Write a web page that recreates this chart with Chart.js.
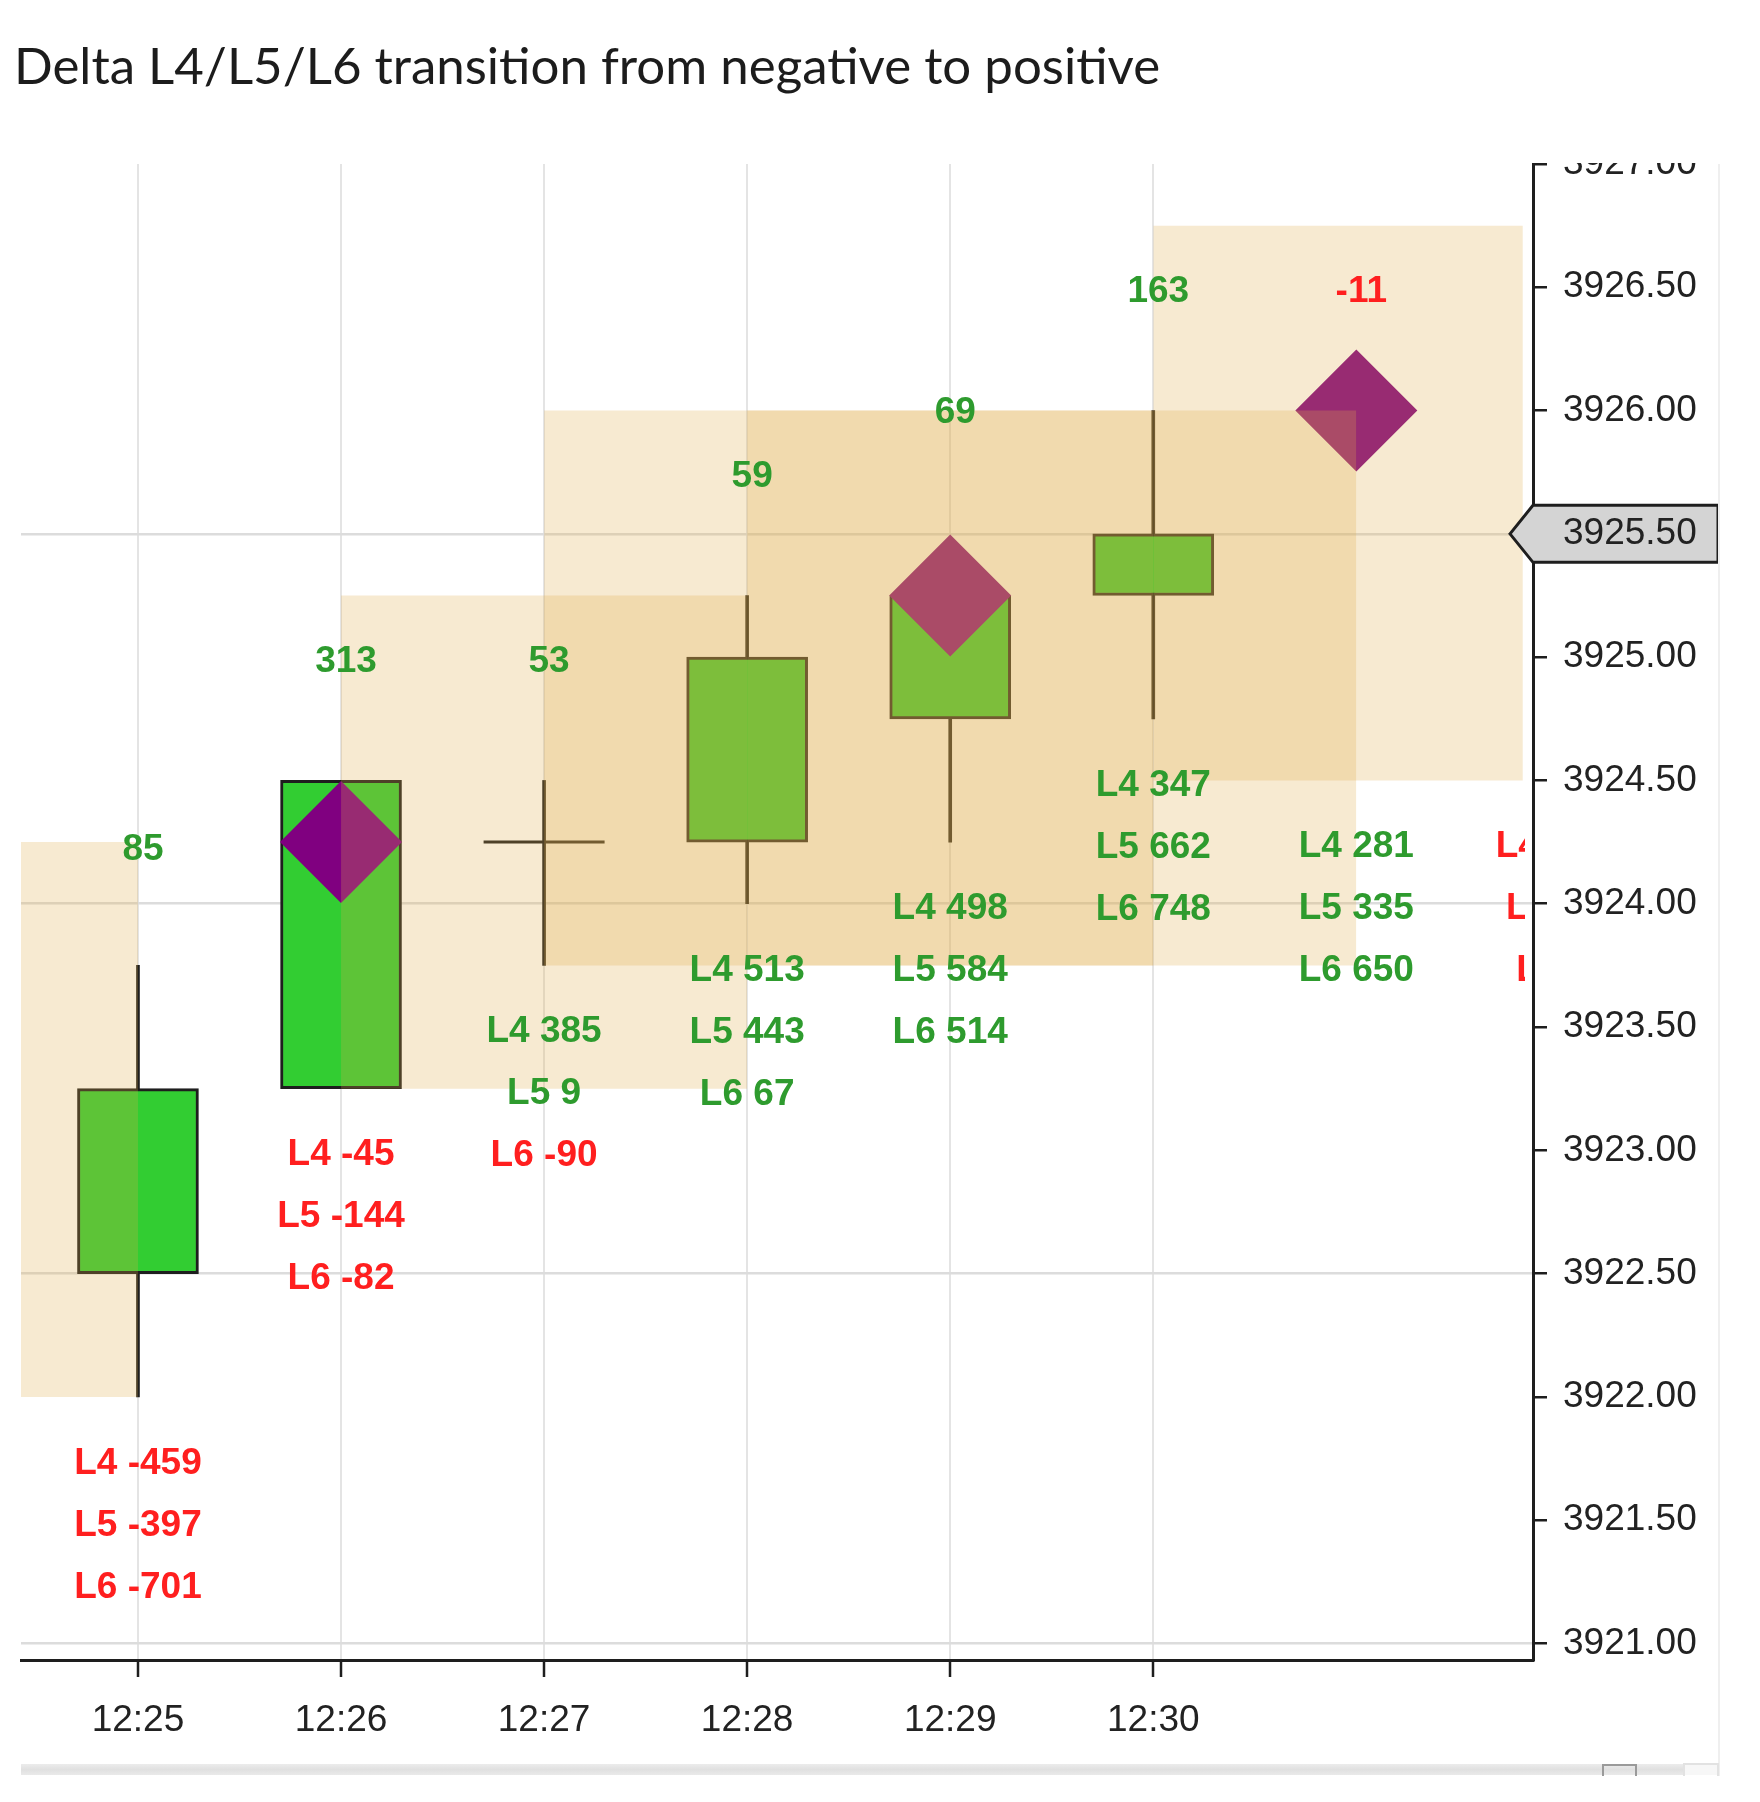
<!DOCTYPE html>
<html>
<head>
<meta charset="utf-8">
<script src="https://cdn.jsdelivr.net/npm/chart.js@4.4.1/dist/chart.umd.min.js"></script>
<style>
html,body{margin:0;padding:0;background:#fff;}
#wrap{width:1760px;height:1802px;position:relative;}
</style>
</head>
<body>
<div id="wrap"><canvas id="c" width="1760" height="1802"></canvas></div>
<script>
// ---------- data ----------
const title = 'Delta L4/L5/L6 transition from negative to positive';
const times = ['12:25', '12:26', '12:27', '12:28', '12:29', '12:30'];
const opens  = [3922.50, 3923.25, 3924.25, 3924.25, 3924.75, 3925.25];
const highs  = [3923.75, 3924.50, 3924.50, 3925.25, 3925.25, 3926.00];
const lows   = [3922.00, 3923.25, 3923.75, 3924.00, 3924.25, 3924.75];
const closes = [3923.25, 3924.50, 3924.25, 3925.00, 3925.25, 3925.50];

const markerBars   = [1, 4, 6];
const markerPrices = [3924.25, 3925.25, 3926.00];

const zoneFrom   = [-1, 1, 2, 3, 5];
const zoneTo     = [0, 3, 5, 6, 6.82];
const zoneTop    = [3924.25, 3925.25, 3926.00, 3926.00, 3926.75];
const zoneBottom = [3922.00, 3923.25, 3923.75, 3923.75, 3924.50];

const deltas   = [85, 313, 53, 59, 69, 163, -11];
const deltaAt  = [3924.22, 3924.98, 3924.98, 3925.73, 3925.99, 3926.48, 3926.48];

const levelL4 = [-459, -45, 385, 513, 498, 347, 281, -126];
const levelL5 = [-397, -144, 9, 443, 584, 662, 335, -38];
const levelL6 = [-701, -82, -90, 67, 514, 748, 650, -5];
const levelsAt = [3921.73, 3922.98, 3923.48, 3923.73, 3923.98, 3924.48, 3924.23, 3924.23];

const yTickValues = [3921.0, 3921.5, 3922.0, 3922.5, 3923.0, 3923.5, 3924.0, 3924.5, 3925.0, 3925.5, 3926.0, 3926.5, 3927.0];
const yGridValues = [3921.0, 3922.5, 3924.0, 3925.5];
const lastPrice = 3925.50;

// ---------- style ----------
const GREEN_TXT = '#2e9b2e';
const RED_TXT = '#ff1f1f';
const AXIS_FONT = {family: '"Liberation Sans", Arial, sans-serif', size: 37};
const LABEL_FONT = 'bold 37px "Liberation Sans", Arial, sans-serif';
const TITLE_FONT = '51px Lato, "Open Sans", sans-serif';
const DARK = '#1e1e1e';

const idx = opens.map((_, i) => i);
const bodyData = idx.filter(i => opens[i] !== closes[i]).map(i => ({x: i, y: [opens[i], closes[i]]}));
const wickData = idx.map(i => ({x: i, y: [lows[i], highs[i]]}));
const dojiData = idx.filter(i => opens[i] === closes[i]).map(i => ({x: i, y: opens[i]}));
const markerData = markerBars.map((b, k) => ({x: b, y: markerPrices[k]}));

const zoneSets = zoneFrom.map((f, k) => ({
  type: 'line',
  data: [{x: f, y: zoneTop[k]}, {x: zoneTo[k], y: zoneTop[k]}],
  fill: {value: zoneBottom[k]},
  backgroundColor: 'rgba(222,172,70,0.25)',
  borderColor: 'rgba(0,0,0,0)',
  borderWidth: 0,
  pointRadius: 0,
  order: 0
}));

const overlay = {
  id: 'overlay',
  beforeDraw(chart) {
    const {ctx} = chart;
    ctx.save();
    ctx.fillStyle = '#1c1c1c';
    ctx.font = TITLE_FONT;
    ctx.textAlign = 'left';
    ctx.textBaseline = 'alphabetic';
    ctx.fillText(title, 14, 84);
    ctx.restore();
  },
  afterDatasetsDraw(chart) {
    const {ctx, chartArea: a, scales: {x, y}} = chart;
    ctx.save();
    ctx.beginPath();
    ctx.rect(a.left, a.top, a.right - a.left - 8, a.bottom - a.top);
    ctx.clip();
    ctx.font = LABEL_FONT;
    ctx.textAlign = 'center';
    ctx.textBaseline = 'middle';
    deltas.forEach((d, i) => {
      ctx.fillStyle = d >= 0 ? GREEN_TXT : RED_TXT;
      ctx.fillText(String(d), x.getPixelForValue(i) + 5, y.getPixelForValue(deltaAt[i]));
    });
    levelsAt.forEach((p, i) => {
      const px = x.getPixelForValue(i);
      const py = y.getPixelForValue(p);
      [['L4', levelL4[i]], ['L5', levelL5[i]], ['L6', levelL6[i]]].forEach(([n, v], k) => {
        ctx.fillStyle = v >= 0 ? GREEN_TXT : RED_TXT;
        ctx.fillText(n + ' ' + v, px, py + k * 62);
      });
    });
    ctx.restore();
  },
  afterDraw(chart) {
    const {ctx, chartArea: a, scales: {y}} = chart;
    ctx.save();
    // clip top axis label like the original
    ctx.fillStyle = '#ffffff';
    ctx.fillRect(a.right + 2, a.top - 40, 260, 39);
    // last price marker
    const py = y.getPixelForValue(lastPrice);
    const h = 28.5, r = 1718, ax = a.right;
    ctx.beginPath();
    ctx.moveTo(ax - 23, py);
    ctx.lineTo(ax, py - h);
    ctx.lineTo(r, py - h);
    ctx.lineTo(r, py + h);
    ctx.lineTo(ax, py + h);
    ctx.closePath();
    ctx.fillStyle = '#d4d4d4';
    ctx.fill();
    ctx.lineWidth = 3;
    ctx.strokeStyle = DARK;
    ctx.stroke();
    ctx.fillStyle = '#222';
    ctx.font = '37px "Liberation Sans", Arial, sans-serif';
    ctx.textAlign = 'left';
    ctx.textBaseline = 'middle';
    ctx.fillText(lastPrice.toFixed(2), a.right + 30, py);
    // faint frame on the right
    ctx.strokeStyle = '#efefef';
    ctx.lineWidth = 2;
    ctx.beginPath();
    ctx.moveTo(1719, a.top);
    ctx.lineTo(1719, 1776);
    ctx.stroke();
    // scrollbar
    const g = ctx.createLinearGradient(0, 1763, 0, 1776);
    g.addColorStop(0, '#eeeeee');
    g.addColorStop(0.5, '#e0e0e0');
    g.addColorStop(1, '#ebebeb');
    ctx.fillStyle = g;
    ctx.fillRect(21, 1764, 1662, 11);
    ctx.fillStyle = '#f7f7f7';
    ctx.fillRect(1683, 1764, 36, 11);
    ctx.strokeStyle = '#9a9a9a';
    ctx.lineWidth = 2;
    ctx.beginPath();
    ctx.moveTo(1603, 1776);
    ctx.lineTo(1603, 1765);
    ctx.lineTo(1636, 1765);
    ctx.lineTo(1636, 1776);
    ctx.stroke();
    ctx.strokeStyle = '#e2e2e2';
    ctx.beginPath();
    ctx.moveTo(1684, 1776);
    ctx.lineTo(1684, 1764);
    ctx.lineTo(1718, 1764);
    ctx.lineTo(1718, 1776);
    ctx.stroke();
    ctx.restore();
  }
};

new Chart(document.getElementById('c'), {
  type: 'bar',
  data: {
    datasets: [
      ...zoneSets,
      {
        type: 'line', showLine: false, data: markerData,
        pointStyle: 'rectRot', pointRadius: 61, pointHoverRadius: 61,
        pointBackgroundColor: '#800080', backgroundColor: '#800080',
        pointBorderWidth: 0, borderColor: 'rgba(0,0,0,0)', pointBorderColor: 'rgba(0,0,0,0)',
        order: 1
      },
      {
        type: 'line', showLine: false, data: dojiData,
        pointStyle: 'line', pointRadius: 60.5, pointHoverRadius: 60.5,
        pointBorderWidth: 3, borderColor: DARK, pointBorderColor: DARK,
        order: 2
      },
      {
        type: 'bar', data: bodyData, grouped: false, barThickness: 121,
        backgroundColor: '#32cd32', borderColor: DARK, borderWidth: 3, borderSkipped: false,
        order: 3
      },
      {
        type: 'bar', data: wickData, grouped: false, barThickness: 3,
        backgroundColor: DARK, borderWidth: 0,
        order: 4
      }
    ]
  },
  options: {
    responsive: false,
    devicePixelRatio: 1,
    animation: false,
    events: [],
    layout: {autoPadding: false, padding: {left: 21, right: 0, top: 164, bottom: 0}},
    plugins: {
      legend: {display: false},
      tooltip: {enabled: false},
      title: {display: false}
    },
    scales: {
      x: {
        type: 'linear', min: -0.576, max: 6.87, offset: false,
        afterBuildTicks: s => { s.ticks = times.map((t, i) => ({value: i})); },
        afterFit: s => { s.height = 142; s.paddingLeft = 0; s.paddingRight = 0; },
        ticks: {
          callback: v => times[v] !== undefined ? times[v] : '',
          font: AXIS_FONT, color: '#222', padding: 22, maxRotation: 0, autoSkip: false
        },
        grid: {offset: false, color: '#e4e4e4', lineWidth: 2, tickColor: DARK, tickLength: 17, tickWidth: 2.5},
        border: {color: DARK, width: 3}
      },
      y: {
        type: 'linear', position: 'right', min: 3920.933, max: 3927.0,
        afterBuildTicks: s => { s.ticks = yTickValues.map(v => ({value: v})); },
        afterFit: s => { s.width = 227; s.paddingTop = 0; s.paddingBottom = 0; },
        ticks: {
          callback: v => Number(v).toFixed(2),
          font: AXIS_FONT, color: '#222', padding: 16, autoSkip: false
        },
        grid: {
          color: c => (c.tick && yGridValues.includes(c.tick.value)) ? '#dcdcdc' : 'rgba(0,0,0,0)',
          lineWidth: 2.5, tickColor: DARK, tickLength: 14, tickWidth: 2.5
        },
        border: {color: DARK, width: 3}
      }
    }
  },
  plugins: [overlay]
});
</script>
</body>
</html>
